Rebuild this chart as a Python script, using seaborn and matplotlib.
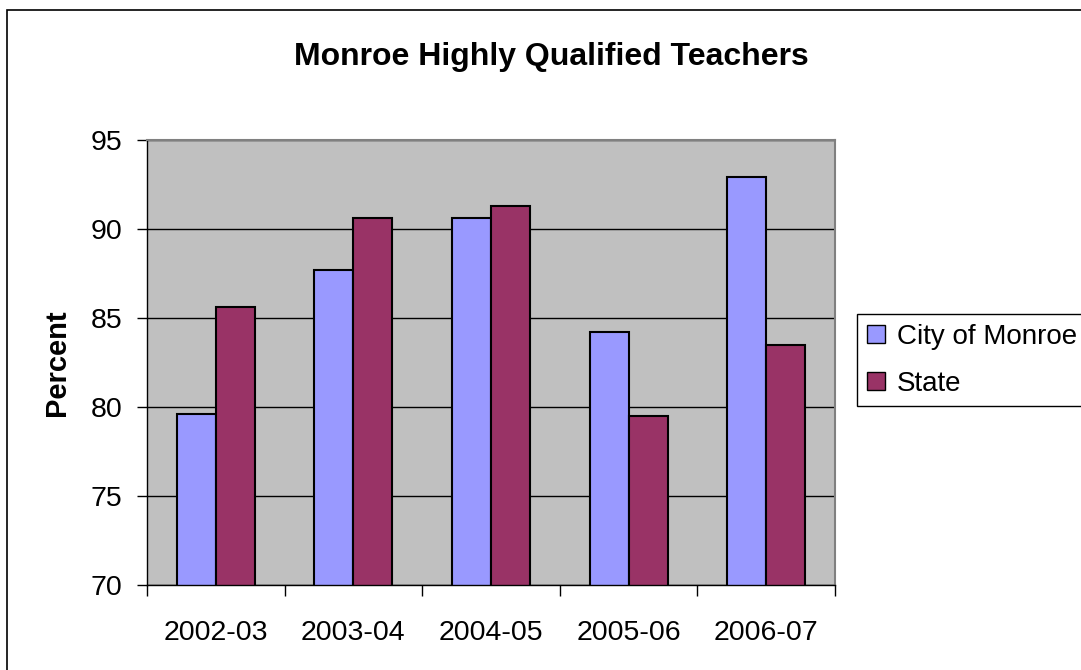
import matplotlib
matplotlib.use("Agg")
import matplotlib.pyplot as plt
import seaborn as sns
import pandas as pd
from matplotlib.patches import Rectangle, Patch
from matplotlib.ticker import FixedLocator

years = ["2002-03", "2003-04", "2004-05", "2005-06", "2006-07"]
city = [79.6, 87.7, 90.6, 84.2, 92.9]
state = [85.6, 90.6, 91.3, 79.5, 83.5]
series_names = ["City of Monroe", "State"]
colors = ["#9999FF", "#993366"]

df = pd.DataFrame({
    "Year": years * 2,
    "Percent": city + state,
    "Series": [series_names[0]] * len(years) + [series_names[1]] * len(years),
})

sns.set_theme(style="white")
plt.rcParams["font.family"] = ["Liberation Sans", "DejaVu Sans"]
plt.rcParams["text.color"] = "black"
plt.rcParams["axes.labelcolor"] = "black"
plt.rcParams["xtick.color"] = "black"
plt.rcParams["ytick.color"] = "black"

W, H = 1081, 670
fig = plt.figure(figsize=(W / 100, H / 100), dpi=100)
fig.patch.set_facecolor("white")
ax = fig.add_axes([147 / W, (H - 585) / H, 688 / W, 445 / H])
ax.set_facecolor("#C0C0C0")

sns.barplot(data=df, x="Year", y="Percent", hue="Series", order=years,
            hue_order=series_names, palette=colors, width=0.567, gap=0,
            edgecolor="black", linewidth=1.5, saturation=1, legend=False, ax=ax)

ax.set_ylim(70, 95)
ax.set_xlim(-0.5, len(years) - 0.5)
ax.set_yticks([70, 75, 80, 85, 90, 95])
ax.yaxis.grid(True, color="black", linewidth=1)
ax.set_axisbelow(True)
ax.tick_params(axis="y", which="major", direction="out", length=7, width=1,
               color="black", labelsize=20.5, pad=11, left=True)
ax.tick_params(axis="x", which="major", length=0, labelsize=20.5, pad=25)
ax.xaxis.set_minor_locator(FixedLocator([i - 0.5 for i in range(len(years) + 1)]))
ax.tick_params(axis="x", which="minor", direction="out", length=8, width=1,
               color="black", bottom=True)
ax.set_xlabel("")
ax.set_ylabel("Percent", fontsize=21, fontweight="bold", labelpad=14)

for side in ["left", "bottom"]:
    ax.spines[side].set_color("black")
    ax.spines[side].set_linewidth(1)
for side in ["top", "right"]:
    ax.spines[side].set_color("#808080")
    ax.spines[side].set_linewidth(1.5)

fig.text(551 / W, 1 - 57 / H, "Monroe Highly Qualified Teachers",
         ha="center", va="center", fontsize=23, fontweight="bold")

handles = [Patch(facecolor=c, edgecolor="black", linewidth=1) for c in colors]
leg = fig.legend(handles, series_names, loc="upper left",
                 bbox_to_anchor=(857 / W, 1 - 314 / H), fontsize=20,
                 frameon=True, fancybox=False, framealpha=1, edgecolor="black",
                 handlelength=0.65, handleheight=0.65, handletextpad=0.43,
                 borderpad=0.35, labelspacing=0.75, borderaxespad=0)
leg.get_frame().set_linewidth(1)

fig.patches.append(Rectangle((7 / W, -10 / H), (W + 10) / W, (H) / H,
                             transform=fig.transFigure, fill=False,
                             edgecolor="black", linewidth=1.2, clip_on=False))

fig.savefig("out.png", dpi=100)
